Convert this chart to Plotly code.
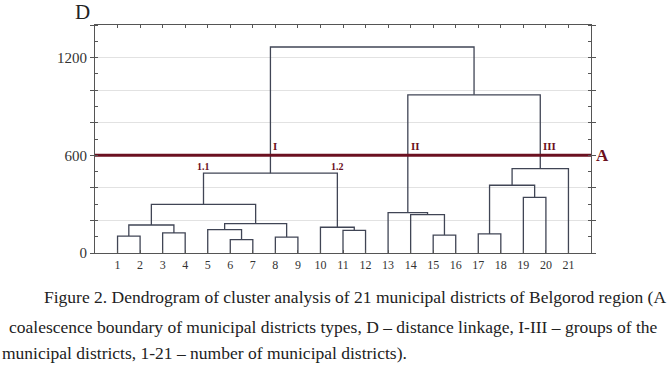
import plotly.graph_objects as go

# ---- data ----
leaf_labels = [str(i) for i in range(1, 22)]
# linkage steps: (left cluster, right cluster, distance D); "cK" = cluster made in step K
merge_left = ["1", "3", "c0", "6", "5", "8", "c4", "c2", "11", "10", "c7",
              "15", "14", "13", "17", "19", "c14", "c16", "c13", "c10"]
merge_right = ["2", "4", "c1", "7", "c3", "9", "c5", "c6", "12", "c8", "c9",
               "16", "c11", "c12", "18", "20", "c15", "21", "c17", "c18"]
merge_height = [104, 123, 172, 82, 144, 98, 180, 299, 139, 158, 490,
                110, 236, 248, 117, 342, 416, 518, 971, 1265]
boundary_level = 600
group_labels = ["I", "II", "III"]
group_nodes = ["c10", "c13", "c17"]
subgroup_labels = ["1.1", "1.2"]
subgroup_nodes = ["c7", "c9"]
subgroup_parent = "c10"
y_tick_labels = {0: "0", 600: "600", 1200: "1200"}
caption_lines = [
    "Figure 2. Dendrogram of cluster analysis of 21 municipal districts of Belgorod region (A",
    "coalescence boundary of municipal districts types, D \u2013 distance linkage, I-III \u2013 groups of the",
    "municipal districts, 1-21 \u2013 number of municipal districts).",
]

pos = {lab: float(i + 1) for i, lab in enumerate(leaf_labels)}
hgt = {lab: 0.0 for lab in leaf_labels}
xs, ys = [], []
for k, (a, b, h) in enumerate(zip(merge_left, merge_right, merge_height)):
    xa, xb = pos[a], pos[b]
    xs += [xa, xa, xb, xb, None]
    ys += [hgt[a], h, h, hgt[b], None]
    name = "c%d" % k
    pos[name] = (xa + xb) / 2
    hgt[name] = h

LINE = "#404555"
RED = "#6b1020"
SERIF = "Liberation Serif"

fig = go.Figure()
fig.add_trace(go.Scatter(x=xs, y=ys, mode="lines",
                         line=dict(color=LINE, width=1.3), hoverinfo="skip",
                         showlegend=False))
fig.add_trace(go.Scatter(x=[0, len(leaf_labels) + 1], y=[boundary_level, boundary_level],
                         mode="lines", line=dict(color=RED, width=3),
                         hoverinfo="skip", showlegend=False))

annotations = []
for lab, node in zip(group_labels, group_nodes):
    annotations.append(dict(x=pos[node], y=boundary_level, xref="x", yref="y",
                            text="<b>%s</b>" % lab, showarrow=False,
                            xanchor="left", yanchor="middle", xshift=1, yshift=9,
                            font=dict(family=SERIF, size=11, color=RED)))
for lab, node in zip(subgroup_labels, subgroup_nodes):
    annotations.append(dict(x=pos[node], y=hgt[subgroup_parent], xref="x", yref="y",
                            text="<b>%s</b>" % lab, showarrow=False,
                            xanchor="center", yanchor="middle", yshift=7,
                            font=dict(family=SERIF, size=10, color=RED)))
annotations.append(dict(x=len(leaf_labels) + 1, y=boundary_level, xref="x", yref="y",
                        text="<b>A</b>", showarrow=False, xanchor="left", yanchor="middle",
                        xshift=3, font=dict(family=SERIF, size=17, color=RED)))
annotations.append(dict(x=-0.026, y=1.057, xref="paper", yref="paper", text="D",
                        showarrow=False, xanchor="center", yanchor="middle",
                        font=dict(family=SERIF, size=21, color="#222")))

L, T, W, H = 95, 25, 496, 228
for text, px, py in zip(caption_lines, [41.7, 7, 0], [296.5, 326.5, 353]):
    annotations.append(dict(x=(px - L) / W, y=(T + H - py) / H, xref="paper", yref="paper",
                            text=text, showarrow=False, xanchor="left", yanchor="middle",
                            font=dict(family=SERIF, size=17.5, color="#222")))

yvals = list(range(0, 1401, 200))
fig.update_layout(
    width=672, height=372,
    margin=dict(l=L, r=672 - L - W, t=T, b=372 - T - H),
    paper_bgcolor="white", plot_bgcolor="white",
    showlegend=False,
    annotations=annotations,
    xaxis=dict(range=[0, len(leaf_labels) + 1], tickvals=list(range(1, 22)),
               ticktext=leaf_labels, showgrid=False, zeroline=False,
               showline=True, linecolor="#555", linewidth=1.2, mirror="ticks",
               ticks="inside", ticklen=3, tickcolor="#555",
               tickfont=dict(family=SERIF, size=12, color="#333")),
    yaxis=dict(range=[0, 1400], tickvals=yvals,
               ticktext=[y_tick_labels.get(v, "") for v in yvals],
               showgrid=True, gridcolor="#e2e2e2", gridwidth=1, zeroline=False,
               showline=True, linecolor="#555", linewidth=1.2, mirror="ticks",
               ticks="outside", ticklen=4, tickcolor="#555",
               minor=dict(dtick=100, ticks="inside", ticklen=3, tickcolor="#555"),
               tickfont=dict(family=SERIF, size=15, color="#333")),
)
fig.write_html("out.html", config={"displayModeBar": False},
               post_script="document.body.style.margin='0';document.body.style.overflow='hidden';")
